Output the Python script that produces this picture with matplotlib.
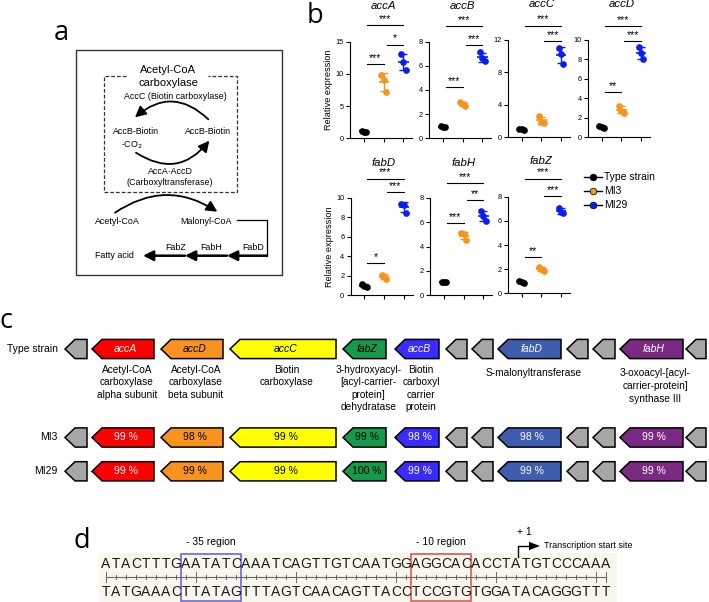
import matplotlib
matplotlib.use("Agg")
import matplotlib.pyplot as plt
import numpy as np
from matplotlib.patches import Polygon, Rectangle, FancyArrowPatch

plt.rcParams["font.family"] = ["Liberation Sans", "DejaVu Sans"]

# ---------------- panel b data (relative expression, 3 replicates) -------------
strains = ["Type strain", "MI3", "MI29"]
strain_colors = ["#000000", "#F7941D", "#0A1EF0"]

accA = [[1.13, 1.05, 1.0], [9.8, 9.05, 7.1], [13.1, 11.9, 10.6]]
accB = [[1.05, 0.95, 0.9], [3.0, 2.85, 2.7], [7.1, 6.6, 6.4]]
accC = [[1.05, 1.0, 0.95], [2.6, 1.9, 1.8], [11.0, 10.2, 9.05]]
accD = [[1.15, 1.05, 0.95], [3.2, 2.7, 2.5], [9.25, 8.6, 8.05]]
fabD = [[1.1, 0.95, 0.85], [2.1, 1.9, 1.6], [9.4, 9.3, 8.5]]
fabH = [[1.05, 1.05, 1.05], [5.15, 5.0, 4.55], [6.95, 6.5, 6.1]]
fabZ = [[1.02, 0.9, 0.85], [2.2, 2.0, 1.85], [7.1, 6.75, 6.62]]

# significance bars: (group, group, height, label)
accA_sig = [(1, 2, 11.5, "***"), (2, 3, 14.5, "*"), (1, 3, 17.5, "***")]
accB_sig = [(1, 2, 4.2, "***"), (2, 3, 7.7, "***"), (1, 3, 9.3, "***")]
accC_sig = [(2, 3, 11.8, "***"), (1, 3, 13.7, "***")]
accD_sig = [(1, 2, 4.6, "**"), (2, 3, 9.8, "***"), (1, 3, 11.4, "***")]
fabD_sig = [(1, 2, 3.3, "*"), (2, 3, 10.6, "***"), (1, 3, 12.0, "***")]
fabH_sig = [(1, 2, 5.9, "***"), (2, 3, 7.8, "**"), (1, 3, 9.25, "***")]
fabZ_sig = [(1, 2, 3.0, "**"), (2, 3, 8.05, "***"), (1, 3, 9.5, "***")]

accA_ticks = [0, 5, 10, 15]
accB_ticks = [0, 2, 4, 6, 8]
accC_ticks = [0, 4, 8, 12]
accD_ticks = [0, 2, 4, 6, 8, 10]
fabD_ticks = [0, 2, 4, 6, 8, 10]
fabH_ticks = [0, 2, 4, 6, 8]
fabZ_ticks = [0, 2, 4, 6, 8]

# ---------------- panel c data ----------------
gene_labels = ["accA", "accD", "accC", "fabZ", "accB", "fabD", "fabH"]
gene_colors = ["#FF0000", "#F7931E", "#FFFF00", "#15994A", "#3A2BFF", "#3F5DAE", "#7B2A84"]
gene_text_colors = ["white", "black", "black", "black", "white", "white", "white"]
mi3_identity = [99, 98, 99, 99, 98, 98, 99]
mi29_identity = [99, 99, 99, 100, 99, 99, 99]
gene_desc = [
    ["Acetyl-CoA", "carboxylase", "alpha subunit"],
    ["Acetyl-CoA", "carboxylase", "beta subunit"],
    ["Biotin", "carboxylase"],
    ["3-hydroxyacyl-", "[acyl-carrier-", "protein]", "dehydratase"],
    ["Biotin", "carboxyl", "carrier", "protein"],
    ["S-malonyltransferase"],
    ["3-oxoacyl-[acyl-", "carrier-protein]", "synthase III"],
]
row_labels = ["Type strain", "MI3", "MI29"]

# ---------------- panel d data ----------------
seq_top = "ATACTTTGAATATCAAATCAGTTGTCAATGGAGGCACACCTATGTCCCAAA"
seq_bottom = "TATGAAACTTATAGTTTAGTCAACAGTTACCTCCGTGTGGATACAGGGTTT"
box35 = (8, 13)
box10 = (31, 36)
tss_index = 41

# ---------------- layout ----------------
W, H = 709, 602
fig = plt.figure(figsize=(W / 100, H / 100), dpi=100)
ax = fig.add_axes([0, 0, 1, 1])
ax.set_xlim(0, W)
ax.set_ylim(H, 0)
ax.axis("off")

label_font = dict(family=["Open Sans", "DejaVu Sans"], fontsize=19.5)
ax.text(61, 40, "a", ha="center", va="baseline", **label_font)
ax.text(315, 23, "b", ha="center", va="baseline", **label_font)
ax.text(6, 328, "c", ha="center", va="baseline", **label_font)
ax.text(82, 548, "d", ha="center", va="baseline", **label_font)

# ================= panel a =================
ax.add_patch(Rectangle((76, 50), 206, 225, fill=False, ec="#333333", lw=1.0))
ax.plot([125.7, 104, 104, 236.7, 236.7, 208], [76, 76, 192.3, 192.3, 76, 76],
        color="#333333", lw=0.9, ls=(0, (3, 1.6)))
ax.text(168, 70, "Acetyl-CoA", ha="center", va="center", fontsize=8)
ax.text(168, 82.5, "carboxylase", ha="center", va="center", fontsize=8)
fs_a = 6.4
ax.text(175, 96.5, "AccC (Biotin carboxylase)", ha="center", va="center", fontsize=fs_a)
ax.text(136, 132, "AccB-Biotin", ha="center", va="center", fontsize=fs_a)
ax.text(132, 145.5, "-CO$_2$", ha="center", va="center", fontsize=fs_a)
ax.text(208.5, 132, "AccB-Biotin", ha="center", va="center", fontsize=fs_a)
ax.text(170, 171.5, "AccA·AccD", ha="center", va="center", fontsize=fs_a)
ax.text(170, 182.7, "(Carboxyltransferase)", ha="center", va="center", fontsize=fs_a)
ax.text(117, 221, "Acetyl-CoA", ha="center", va="center", fontsize=fs_a)
ax.text(205.5, 221, "Malonyl-CoA", ha="center", va="center", fontsize=fs_a)
ax.text(114, 255.5, "Fatty acid", ha="center", va="center", fontsize=fs_a)
ax.text(176, 248, "FabZ", ha="center", va="center", fontsize=fs_a)
ax.text(211, 248, "FabH", ha="center", va="center", fontsize=fs_a)
ax.text(253, 248, "FabD", ha="center", va="center", fontsize=fs_a)


def arrow(p1, p2, rad=0.0, lw=1.3, hl=6.5, hw=3.3):
    ax.add_patch(FancyArrowPatch(p1, p2, connectionstyle=f"arc3,rad={rad}",
                                 arrowstyle=f"-|>,head_length={hl},head_width={hw}",
                                 mutation_scale=1, lw=lw, color="k",
                                 shrinkA=0, shrinkB=0))


arrow((208.3, 119.3), (135, 117.3), rad=0.45)
arrow((136, 152.7), (209.3, 140.7), rad=0.45)
arrow((115, 212.7), (217.3, 211.7), rad=-0.33)
ax.plot([237, 267, 267], [220, 220, 255.7], color="k", lw=0.9)
arrow((267, 255.7), (227, 255.7), lw=1.8, hl=6, hw=3)
arrow((227, 255.7), (185, 255.7), lw=1.8, hl=6, hw=3)
arrow((185, 255.7), (143, 255.7), lw=1.8, hl=6, hw=3)

# ================= panel b =================
STEP = 19.7


def draw_expr(name, groups, sigs, yticks, x1px, top, bottom, ylabel):
    left = x1px - 0.7 * STEP
    right = x1px + 2.45 * STEP
    a = fig.add_axes([left / W, 1 - bottom / H, (right - left) / W, (bottom - top) / H])
    a.set_xlim(0.3, 3.45)
    a.set_ylim(0, yticks[-1])
    offs = [-0.12, 0.0, 0.12]
    for i, (vals, c) in enumerate(zip(groups, strain_colors)):
        x = i + 1
        v = np.array(vals)
        m, s = v.mean(), v.std(ddof=1)
        a.plot([x + o for o in offs], v, "o", color=c, ms=3.8, zorder=3, clip_on=False)
        a.hlines(m, x - 0.26, x + 0.26, color=c, lw=1.2, zorder=2)
        a.errorbar([x], [m], yerr=[s], color=c, capsize=2.6, lw=1.0, capthick=1.0, zorder=2)
    for g1, g2, yv, txt in sigs:
        a.plot([g1 + 0.15, g2], [yv, yv], color="k", lw=0.8, clip_on=False)
        a.text((g1 + 0.15 + g2) / 2, yv + yticks[-1] * 0.012, txt, ha="center",
               va="bottom", fontsize=7.5, clip_on=False)
    for sp in ["top", "right"]:
        a.spines[sp].set_visible(False)
    for sp in ["left", "bottom"]:
        a.spines[sp].set_linewidth(0.8)
    a.set_yticks(yticks)
    a.set_xticks([1, 2, 3])
    a.set_xticklabels([])
    a.tick_params(axis="both", length=3, width=0.8, labelsize=5.3, pad=1.5)
    if ylabel:
        a.set_ylabel("Relative expression", fontsize=6.6)
        a.yaxis.set_label_coords(-17 / (right - left), 0.5)
    ax.text(x1px + STEP, top - 35.5, name, ha="center", va="center",
            fontsize=8.2, style="italic")


draw_expr("accA", accA, accA_sig, accA_ticks, 364.0, 41.5, 138.3, True)
draw_expr("accB", accB, accB_sig, accB_ticks, 443.0, 41.5, 138.3, False)
draw_expr("accC", accC, accC_sig, accC_ticks, 521.7, 39.5, 137.3, False)
draw_expr("accD", accD, accD_sig, accD_ticks, 601.7, 39.5, 137.3, False)
draw_expr("fabD", fabD, fabD_sig, fabD_ticks, 364.3, 198.0, 295.0, True)
draw_expr("fabH", fabH, fabH_sig, fabH_ticks, 444.0, 198.0, 295.0, False)
draw_expr("fabZ", fabZ, fabZ_sig, fabZ_ticks, 521.7, 196.7, 293.3, False)

for k, (name, c) in enumerate(zip(strains, strain_colors)):
    y = 177 + 13.8 * k
    ax.plot([584, 602], [y, y], color="k", lw=1.0)
    ax.plot([593], [y], "o", ms=4.8, mfc=c, mec="k", mew=0.5)
    ax.text(604, y, name, ha="left", va="center", fontsize=7.5)

# ================= panel c =================
gene_left = [92, 161, 230, 343, 395, 498, 620]
gene_right = [154, 223, 336, 386, 439, 561, 683]
gray_left = [65, 446, 472, 567, 593, 686]
gray_right = [87, 467, 493, 588, 615, 706]
row_y = [349, 437.5, 471.3]
HALF = 9.6
HEAD = 10


def gene_arrow(xl, xr, yc, color):
    pts = [(xl, yc), (xl + HEAD, yc - HALF), (xr, yc - HALF), (xr, yc + HALF), (xl + HEAD, yc + HALF)]
    ax.add_patch(Polygon(pts, closed=True, fc=color, ec="k", lw=1.1, joinstyle="miter"))


for r, yc in enumerate(row_y):
    ax.text(57.5, yc, row_labels[r], ha="right", va="center", fontsize=7.5)
    for xl, xr in zip(gray_left, gray_right):
        gene_arrow(xl, xr, yc, "#A6A6A6")
    for g in range(len(gene_labels)):
        gene_arrow(gene_left[g], gene_right[g], yc, gene_colors[g])
        cx = (gene_left[g] + HEAD / 2 + gene_right[g]) / 2
        if r == 0:
            ax.text(cx, yc, gene_labels[g], ha="center", va="center", fontsize=7.5,
                    style="italic", color=gene_text_colors[g])
        else:
            ident = mi3_identity[g] if r == 1 else mi29_identity[g]
            ax.text(cx, yc, f"{ident} %", ha="center", va="center", fontsize=7.5,
                    color=gene_text_colors[g])

for g in range(len(gene_labels)):
    cx = (gene_left[g] + 8 + gene_right[g]) / 2
    y0, dy = (373, 13) if g >= 5 else (370, 12.3)
    for j, line in enumerate(gene_desc[g]):
        ax.text(cx, y0 + dy * j, line, ha="center", va="center", fontsize=7.3)

# ================= panel d =================
x0, dx = 106.0, 10.0
ax.add_patch(Rectangle((99, 553), 518, 49, fc="#F9F6EE", ec="none", zorder=0))
for i, (b1, b2) in enumerate(zip(seq_top, seq_bottom)):
    ax.text(x0 + dx * i, 563.5, b1, ha="center", va="center", fontsize=10, color="#1a1a1a")
    ax.text(x0 + dx * i, 592.5, b2, ha="center", va="center", fontsize=10, color="#1a1a1a")

ry = 576.8
ax.plot([x0, x0 + dx * (len(seq_top) - 1)], [ry, ry], color="#666666", lw=0.8)
majors = [0, 9, 19, 29, 39, 49, len(seq_top) - 1]
for i in range(len(seq_top)):
    h = 5 if i in majors else 1.8
    ax.plot([x0 + dx * i] * 2, [ry - h, ry + h], color="#666666", lw=0.7)

for (i1, i2), col, lab in [(box35, "#5B5BE6", "- 35 region"), (box10, "#E04A3A", "- 10 region")]:
    xa = x0 + dx * i1 - 5.2
    xb = x0 + dx * i2 + 5.2
    ax.add_patch(Rectangle((xa, 554.3), xb - xa, 47, fill=False, ec=col, lw=1.1))
    ax.text((xa + xb) / 2, 541.7, lab, ha="center", va="center", fontsize=7.5)

tx = x0 + dx * tss_index + 2
ax.plot([tx, tx, 530], [556.5, 546, 546], color="k", lw=1.0)
ax.add_patch(Polygon([(540, 546), (529, 541.8), (529, 550.2)], closed=True, fc="k", ec="none"))
ax.text(524, 531.7, "+ 1", ha="center", va="center", fontsize=7.5)
ax.text(543.5, 546, "Transcription start site", ha="left", va="center", fontsize=6.5)

fig.savefig("out.png", dpi=100)
